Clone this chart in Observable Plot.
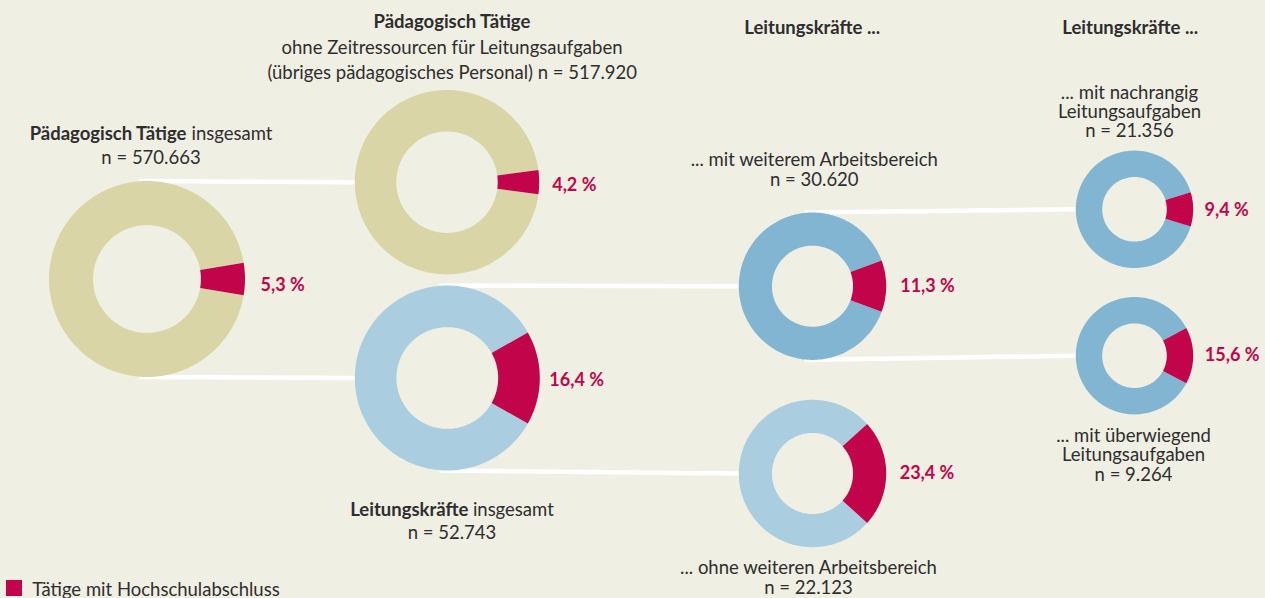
<!DOCTYPE html>
<html><head><meta charset="utf-8">
<script src="https://cdn.jsdelivr.net/npm/d3@7"></script>
<script src="https://cdn.jsdelivr.net/npm/@observablehq/plot@0.6"></script>
<style>
html,body{margin:0;padding:0;background:#f0efe4;}
#chart{width:1265px;height:598px;overflow:hidden;}
</style></head><body><div id="chart"></div>
<script>
// ---------- data ----------
const nodeIds   = ["all", "other", "lead", "leadMore", "leadOnly", "leadMinor", "leadMajor"];
const parentIds = [null, "all", "all", "lead", "lead", "leadMore", "leadMore"];
const shareHochschule = [5.3, 4.2, 16.4, 11.3, 23.4, 9.4, 15.6];   // % Tätige mit Hochschulabschluss
const shareLabels = ["5,3 %", "4,2 %", "16,4 %", "11,3 %", "23,4 %", "9,4 %", "15,6 %"];
const countLabels = ["n = 570.663", "n = 517.920", "n = 52.743", "n = 30.620", "n = 22.123", "n = 21.356", "n = 9.264"];
const groupKind = ["paed", "paed", "leadAll", "leadMid", "leadAll", "leadMid", "leadMid"];
const titleLines = [
  [[["Pädagogisch Tätige", "bold"], ["insgesamt", "normal"]], [[countLabels[0], "normal"]]],
  [[["Pädagogisch Tätige", "bold"]], [["ohne Zeitressourcen für Leitungsaufgaben", "normal"]], [["(übriges pädagogisches Personal) " + countLabels[1], "normal"]]],
  [[["Leitungskräfte", "bold"], ["insgesamt", "normal"]], [[countLabels[2], "normal"]]],
  [[["... mit weiterem Arbeitsbereich", "normal"]], [[countLabels[3], "normal"]]],
  [[["... ohne weiteren Arbeitsbereich", "normal"]], [[countLabels[4], "normal"]]],
  [[["... mit nachrangig", "normal"]], [["Leitungsaufgaben", "normal"]], [[countLabels[5], "normal"]]],
  [[["... mit überwiegend", "normal"]], [["Leitungsaufgaben", "normal"]], [[countLabels[6], "normal"]]]
];
const columnHeaders = ["Leitungskräfte ...", "Leitungskräfte ..."];
const legendLabel = "Tätige mit Hochschulabschluss";

// ---------- styles / layout ----------
const colors = {paed: "#d9d5a7", leadAll: "#aacde0", leadMid: "#81b5d1", red: "#c2054b", text: "#2e2e2e", link: "#ffffff"};
const layout = [
  {cx: 146.5, cy: 278.5, ro: 98,   tx: 150.5,  tb: [139, 163.3],         ldx: 15.5, ldy: 6},
  {cx: 446.5, cy: 181.7, ro: 92.2, tx: 451.7,  tb: [27.3, 53.3, 78.3],   ldx: 13,   ldy: 3.5},
  {cx: 446.8, cy: 377.5, ro: 92.5, tx: 451.5,  tb: [515, 538],           ldx: 9.5,  ldy: 2},
  {cx: 812,   cy: 285.7, ro: 73.7, tx: 813.8,  tb: [165.7, 185],         ldx: 14,   ldy: 0},
  {cx: 812,   cy: 473,   ro: 73.7, tx: 808,    tb: [573.3, 593.3],       ldx: 13.5, ldy: 0},
  {cx: 1134,  cy: 208.8, ro: 58.7, tx: 1129,   tb: [98.3, 118.3, 136.7], ldx: 11.3, ldy: 0.5},
  {cx: 1134,  cy: 355.2, ro: 58.7, tx: 1133,   tb: [441.7, 461.7, 480],  ldx: 11.6, ldy: 0}
];
const headerLayout = [{x: 811.7, y: 33.3}, {x: 1129.7, y: 33.3}];
const holeRatio = 0.55;
const fontFamily = "Lato";
const fontSize = 18.5;
const pctFontSize = 18;
const legendLayout = {x: 6, y: 580, size: 16, tx: 31.7, ty: 595};

// ---------- derived geometry ----------
function arcPolygon(key, fill, cx, cy, ro, ri, a0, a1) {
  const n = Math.max(4, Math.ceil(Math.abs(a1 - a0) / 1.5));
  const pts = [];
  for (let i = 0; i <= n; i++) {
    const a = (a0 + (a1 - a0) * i / n) * Math.PI / 180;
    pts.push({key, fill, x: cx + ro * Math.sin(a), y: cy - ro * Math.cos(a)});
  }
  for (let i = n; i >= 0; i--) {
    const a = (a0 + (a1 - a0) * i / n) * Math.PI / 180;
    pts.push({key, fill, x: cx + ri * Math.sin(a), y: cy - ri * Math.cos(a)});
  }
  return pts;
}
const arcs = [];
nodeIds.forEach((id, i) => {
  const L = layout[i], ri = L.ro * holeRatio;
  const half = shareHochschule[i] / 100 * 360 / 2;
  arcs.push(...arcPolygon(id + "-rest", colors[groupKind[i]], L.cx, L.cy, L.ro, ri, 90 + half, 450 - half));
  arcs.push(...arcPolygon(id + "-hs", colors.red, L.cx, L.cy, L.ro, ri, 90 - half, 90 + half));
});
const links = [];
nodeIds.forEach((id, i) => {
  const p = nodeIds.indexOf(parentIds[i]);
  if (p < 0) return;
  const P = layout[p], C = layout[i];
  const above = C.cy < P.cy;
  links.push({x1: P.cx - 8, y1: above ? P.cy - P.ro : P.cy + P.ro, x2: C.cx - C.ro, y2: C.cy});
});
const pctLabels = nodeIds.map((id, i) => ({x: layout[i].cx + layout[i].ro + layout[i].ldx, y: layout[i].cy + layout[i].ldy, text: shareLabels[i]}));

// text: mixed bold/regular lines are placed run by run (centred using measured widths);
// blocks of plain lines become one multi-line text element
const ctx = document.createElement("canvas").getContext("2d");
function measure(t, w) { ctx.font = `${w} ${fontSize}px ${fontFamily}`; return ctx.measureText(t).width; }
const textRuns = [];
const blockMarks = [];
titleLines.forEach((lines, i) => {
  const L = layout[i];
  const plain = lines.every(segs => segs.length === 1 && segs[0][1] === "normal");
  if (plain) {
    const n = lines.length;
    const spacing = (L.tb[n - 1] - L.tb[0]) / (n - 1);
    blockMarks.push(Plot.text([lines.map(s => s[0][0]).join("\n")], {
      x: L.tx, y: L.tb[n - 1], text: d => d, fill: colors.text, fontSize,
      textAnchor: "middle", lineAnchor: "bottom", lineHeight: spacing / fontSize
    }));
    return;
  }
  lines.forEach((segs, j) => {
    const widths = segs.map(([t, w], k) => measure(k < segs.length - 1 ? t + " " : t, w));
    const total = d3.sum(widths);
    let x = L.tx - total / 2;
    segs.forEach(([t, w], k) => { textRuns.push({x, y: L.tb[j], text: t, weight: w}); x += widths[k]; });
  });
});
columnHeaders.forEach((h, i) => {
  const w = measure(h, "bold");
  textRuns.push({x: headerLayout[i].x - w / 2, y: headerLayout[i].y, text: h, weight: "bold"});
});
const boldRuns = textRuns.filter(d => d.weight === "bold");
const normalRuns = textRuns.filter(d => d.weight !== "bold");

const chart = Plot.plot({
  width: 1265, height: 598, margin: 0,
  x: {domain: [0, 1265], range: [0, 1265], axis: null},
  y: {domain: [0, 598], range: [0, 598], axis: null},
  color: {type: "identity"},
  style: {background: "transparent", fontFamily: fontFamily},
  marks: [
    Plot.link(links, {x1: "x1", y1: "y1", x2: "x2", y2: "y2", stroke: colors.link, strokeWidth: 4.5}),
    Plot.line(arcs, {x: "x", y: "y", z: "key", fill: "fill", stroke: "none", curve: "linear-closed"}),
    Plot.text(pctLabels, {x: "x", y: "y", text: "text", fill: colors.red, fontWeight: "bold", fontSize: pctFontSize, textAnchor: "start"}),
    Plot.text(boldRuns, {x: "x", y: "y", text: "text", fill: colors.text, fontWeight: "bold", fontSize, textAnchor: "start", lineAnchor: "bottom"}),
    Plot.text(normalRuns, {x: "x", y: "y", text: "text", fill: colors.text, fontSize, textAnchor: "start", lineAnchor: "bottom"}),
    ...blockMarks,
    Plot.rect([legendLabel], {x1: legendLayout.x, x2: legendLayout.x + legendLayout.size, y1: legendLayout.y, y2: legendLayout.y + legendLayout.size, fill: colors.red}),
    Plot.text([legendLabel], {x: legendLayout.tx, y: legendLayout.ty, text: d => d, fill: colors.text, fontSize, textAnchor: "start", lineAnchor: "bottom"})
  ]
});
document.getElementById("chart").appendChild(chart);
</script></body></html>
